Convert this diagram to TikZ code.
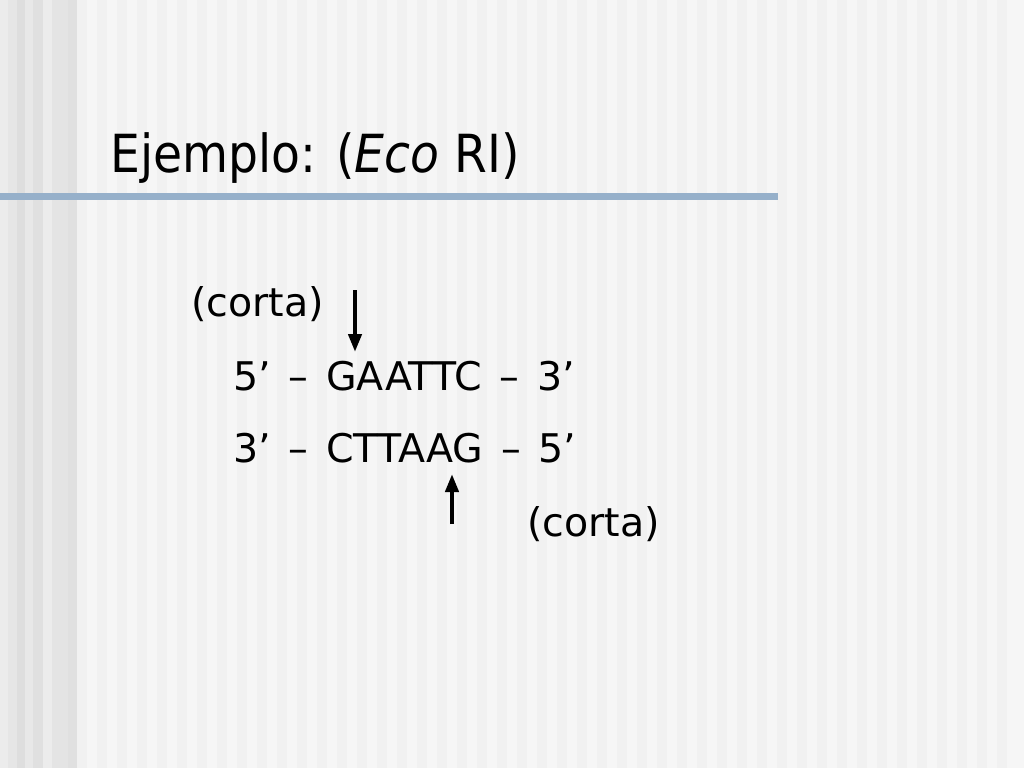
\documentclass[tikz,border=0pt]{standalone}
\usepackage{fontspec}
\setmainfont{DejaVu Sans}
\newfontfamily\titlefont{DejaVu Sans Condensed}
\newfontfamily\strandfont{DejaVu Sans}[WordSpace=1.42]
\usepackage{xcolor}
\definecolor{slidebase}{RGB}{246, 246, 246}
\definecolor{stripefaint}{RGB}{241, 241, 241}
\definecolor{rulerblue}{RGB}{150, 176, 202}
\usetikzlibrary{arrows.meta, positioning}

\begin{document}
\begin{tikzpicture}[
    x=1pt, y=-1pt,
    titletext/.style={anchor=base west, inner sep=0pt,
                      font=\titlefont\fontsize{52.5}{62}\selectfont},
    seqtext/.style={anchor=base west, inner sep=0pt,
                    font=\strandfont\fontsize{39.5}{47}\selectfont},
    cutarrow/.style={line width=4.2pt,
                     -{Triangle[length=18pt, width=13pt]}}
]
    \useasboundingbox (0,0) rectangle (1024,768);
    % background with stripes
    \fill[slidebase] (0,0) rectangle (1024,768);
    \foreach \i in {0,...,46}
        \fill[stripefaint] (77+\i*20,0) rectangle ++(10,768);
    \foreach \xa/\xb/\g in {0/8/236, 8/17/230, 17/25/222, 25/33/232,
                            33/43/224, 43/52/236, 52/68/228, 68/77/224}
        \fill[color={rgb,255:red,\g;green,\g;blue,\g}] (\xa,0) rectangle (\xb,768);

    % title and ruler
    \node[titletext] (title) at (110,172) {Ejemplo: (\textit{Eco} RI)};
    \fill[rulerblue] (0,193) rectangle (778,200);

    % recognition site
    \node[seqtext] (cutTop) at (191,316) {(corta)};
    \node[seqtext] (topStrand) at (233,390) {5’ – GAATTC – 3’};
    \node[seqtext] (bottomStrand) at (233,462) {3’ – CTTAAG – 5’};
    \node[seqtext] (cutBottom) at (527,536) {(corta)};

    \coordinate (topArrowStart) at (355,290);
    \coordinate (topArrowEnd) at (355,352);
    \coordinate (bottomArrowStart) at (452,524);
    \coordinate (bottomArrowEnd) at (452,474);
    \draw[cutarrow] (topArrowStart) -- (topArrowEnd);
    \draw[cutarrow] (bottomArrowStart) -- (bottomArrowEnd);
\end{tikzpicture}
\end{document}
